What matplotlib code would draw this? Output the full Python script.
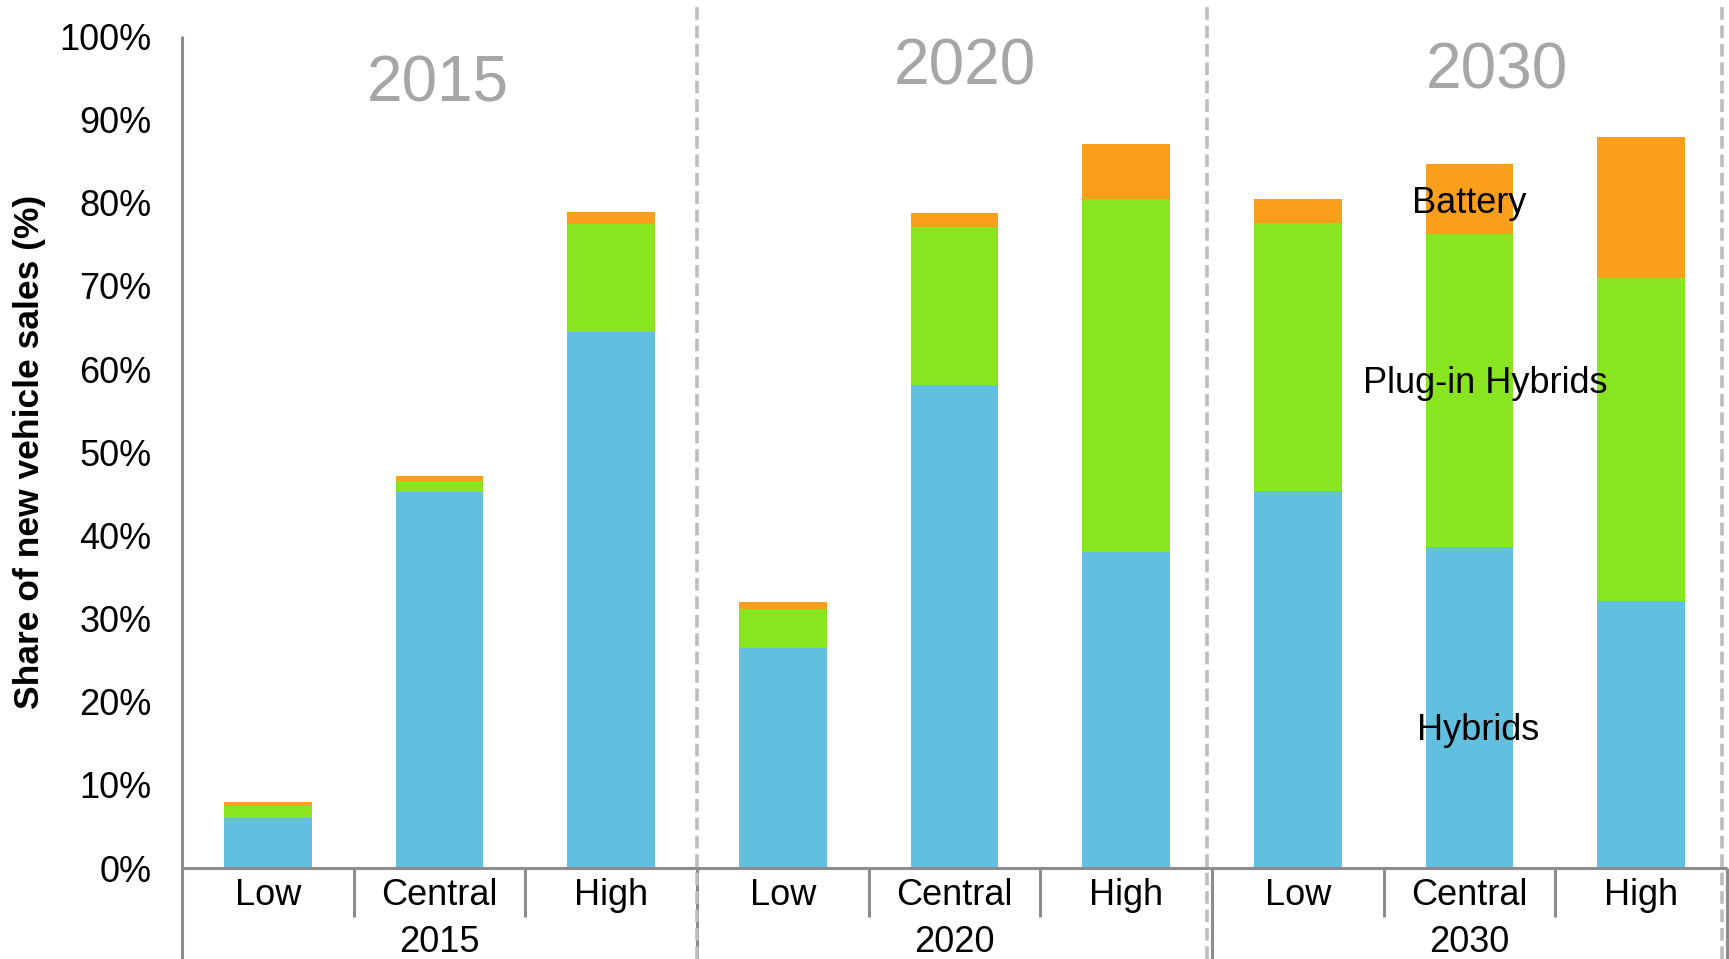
import matplotlib
matplotlib.use("Agg")
import matplotlib.pyplot as plt
import numpy as np

plt.rcParams['font.family'] = ['Liberation Sans', 'DejaVu Sans']

# ---- data ----
years = ["2015", "2020", "2030"]
scenarios = ["Low", "Central", "High"]
hybrids = [6.0, 45.2, 64.4, 26.4, 58.1, 38.0, 45.3, 38.6, 32.1]
plugin_hybrids = [1.4, 1.3, 13.1, 4.8, 19.0, 42.5, 32.3, 37.6, 38.8]
battery = [0.5, 0.6, 1.4, 0.8, 1.7, 6.6, 2.9, 8.4, 17.0]
yticks = list(range(0, 101, 10))

c_hyb = "#63BFDF"
c_phev = "#88E520"
c_bat = "#FA9E1E"
axis_grey = "#8C8C8C"
dash_grey = "#BDBDBD"
title_grey = "#A6A6A6"

W, H = 1729, 959
fig = plt.figure(figsize=(W / 100, H / 100), dpi=100)
ax = fig.add_axes([182 / W, 91 / H, (1727 - 182) / W, (868 - 36.4) / H])

n = len(hybrids)
x = np.arange(n)
hyb = np.array(hybrids)
phev = np.array(plugin_hybrids)
bat = np.array(battery)
bw = 0.51
ax.bar(x, hyb, width=bw, color=c_hyb, linewidth=0)
ax.bar(x, phev, width=bw, bottom=hyb, color=c_phev, linewidth=0)
ax.bar(x, bat, width=bw, bottom=hyb + phev, color=c_bat, linewidth=0)

fs = 26
ax.set_xlim(-0.5, n - 0.5)
ax.set_ylim(0, 100)
ax.set_yticks(yticks)
ax.set_yticklabels([f"{v}%" for v in yticks], fontsize=fs)
ax.tick_params(axis='y', length=0, pad=22)
ax.set_xticks([])
for s in ['top', 'right', 'bottom', 'left']:
    ax.spines[s].set_visible(False)

lw = 2.2
ybot = -10.9
# x axis line
ax.plot([-0.5, n - 0.5], [0, 0], color=axis_grey, lw=lw, clip_on=False, solid_capstyle='butt')
# left spine extending below axis
ax.plot([-0.5, -0.5], [ybot, 100], color=axis_grey, lw=lw, clip_on=False, solid_capstyle='butt')

# category separators and labels
for g in range(len(years)):
    for k in range(len(scenarios)):
        i = g * 3 + k
        ax.text(i, -3.3, scenarios[k], ha='center', va='center', fontsize=fs, clip_on=False)
        if k < 2:
            ax.plot([i + 0.5, i + 0.5], [0, -5.9], color=axis_grey, lw=lw, clip_on=False,
                    solid_capstyle='butt')
    # group separator at right end
    xr = g * 3 + 2.5
    ax.plot([xr, xr], [0, ybot], color=axis_grey, lw=lw, clip_on=False, solid_capstyle='butt')
    ax.text(g * 3 + 1, -8.95, years[g], ha='center', va='center', fontsize=fs, clip_on=False)

# dashed year dividers
for xd in [2.5, 5.47, 8.47]:
    ax.plot([xd, xd], [ybot, 103.5], color=dash_grey, lw=2.6, ls=(0, (3.5, 1.6)),
            clip_on=False)

# big year titles
title_pos = [(0.99, 94.2), (4.06, 96.3), (7.16, 95.8)]
for yr, (tx, ty) in zip(years, title_pos):
    ax.text(tx, ty, yr, ha='center', va='center', fontsize=46, color=title_grey)

# series annotations
ax.text(7.0, 79.9, "Battery", ha='center', va='center', fontsize=fs)
ax.text(7.09, 58.3, "Plug-in Hybrids", ha='center', va='center', fontsize=fs)
ax.text(7.05, 16.5, "Hybrids", ha='center', va='center', fontsize=fs)

fig.text(29.8 / W, 1 - 452 / H, "Share of new vehicle sales (%)", rotation=90,
         ha='center', va='center', fontsize=25.5, fontweight='bold')

fig.savefig("out.png", dpi=100)
